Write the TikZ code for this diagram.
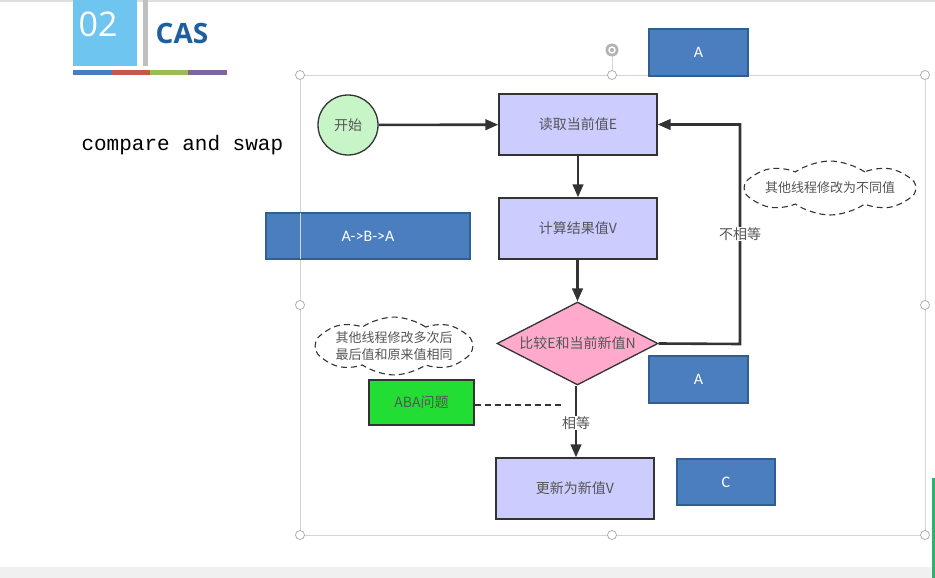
\documentclass[tikz,border=0pt]{standalone}
\usepackage{fontspec}
\setmainfont{Noto Sans CJK SC}
\newfontfamily\cjk{Noto Sans CJK SC}
\newfontfamily\carl{Carlito}
\newfontfamily\opensans{Open Sans}
\newfontfamily\monof{Liberation Mono}
\usetikzlibrary{arrows.meta,shapes.geometric,shapes.symbols}
\definecolor{flowfill}{HTML}{CCCCFF}
\definecolor{flowline}{HTML}{333333}
\definecolor{flowtext}{HTML}{555555}
\definecolor{bluefill}{HTML}{4A7EBE}
\definecolor{blueline}{HTML}{2F5E91}
\definecolor{selgray}{HTML}{D4D4D4}
\definecolor{hdrblue}{HTML}{6EC6F0}
\definecolor{casblue}{HTML}{1F5FA0}
\definecolor{barblue}{HTML}{4A7EBB}
\definecolor{barred}{HTML}{C9564A}
\definecolor{bargreen}{HTML}{9BBB59}
\definecolor{barpurple}{HTML}{8064A2}
\definecolor{startgreen}{HTML}{C8F5C8}
\definecolor{diampink}{HTML}{FFAACC}
\definecolor{abagreen}{HTML}{22DD33}
\definecolor{edgegreen}{HTML}{2DB36B}
\tikzset{
  flowfont/.style={font=\cjk\fontsize{14}{17}\selectfont,text=flowtext},
  flowbox/.style={draw=flowline,line width=1.3pt,fill=flowfill,minimum width=158pt,minimum height=61pt,inner sep=0pt,flowfont},
  bluebox/.style={draw=blueline,line width=2pt,fill=bluefill,inner sep=0pt,font=\carl\fontsize{16}{19}\selectfont,text=white},
  flowarrow/.style={draw=flowline,line width=2.6pt,-{Triangle[length=13pt,width=10.5pt]}},
  handle/.style={circle,draw=gray!70,fill=white,line width=0.7pt,minimum size=9pt,inner sep=0pt},
  cloudnote/.style={cloud,cloud puffs=8,cloud puff arc=70,cloud ignores aspect,draw=flowline,dash pattern=on 6pt off 4pt,line width=1.1pt,inner sep=0pt,align=center,font=\cjk\fontsize{13}{17}\selectfont,text=flowtext},
}
\begin{document}
\begin{tikzpicture}[x=1pt,y=-1pt]
\useasboundingbox (0,0) rectangle (935,578);
\fill[white] (0,0) rectangle (935,578);
% top / bottom strips
\fill[gray!25] (0,0) rectangle (935,2);
\fill[gray!12] (0,567) rectangle (935,578);
\fill[edgegreen] (932,478) rectangle (935,578);
% header
\fill[hdrblue] (73,0) rectangle (137,66);
\node[text=white,font=\opensans\fontsize{34}{38}\selectfont,anchor=center] (num) at (98,24) {02};
\fill[gray!50] (143,0) rectangle (148,66);
\node[text=casblue,font=\opensans\bfseries\fontsize{28}{32}\selectfont] (cas) at (182,33) {CAS};
\fill[barblue] (73,70) rectangle (112,75.5);
\fill[barred] (112,70) rectangle (150,75.5);
\fill[bargreen] (150,70) rectangle (188,75.5);
\fill[barpurple] (188,70) rectangle (227,75.5);
\node[font=\monof\fontsize{21}{24}\selectfont,anchor=west] (cmp) at (78,145) {compare and swap};
% selection frame
\draw[selgray,line width=0.8pt] (300,75) rectangle (925,535);
\draw[selgray,line width=0.8pt] (612,50) -- (612,75);
\foreach \p/\n in {{300,75}/h1,{612,75}/h2,{925,75}/h3,{300,305}/h4,{925,305}/h5,{300,535}/h6,{612,535}/h7,{925,535}/h8}
  \node[handle] (\n) at (\p) {};
\node[circle,fill=gray!60,minimum size=13pt,inner sep=0pt] (rot) at (612,50) {};
\node[circle,draw=white,line width=1.4pt,minimum size=6pt,inner sep=0pt] (rotin) at (612,50) {};
% flow nodes
\node[circle,draw=flowline,line width=1.3pt,fill=startgreen,minimum size=60pt,inner sep=0pt,flowfont] (start) at (348,125) {开始};
\node[flowbox] (read) at (578,124.5) {读取当前值E};
\node[flowbox] (calc) at (578,228.5) {计算结果值V};
\node[diamond,draw=flowline,line width=1.3pt,fill=diampink,minimum width=161pt,minimum height=83pt,inner sep=0pt,aspect=1.94,flowfont] (cmpn) at (577.5,343.5) {比较E和当前新值N};
\node[flowbox] (upd) at (575,488.5) {更新为新值V};
\node[draw=flowline,line width=1.3pt,fill=abagreen,minimum width=105pt,minimum height=45pt,inner sep=0pt,flowfont] (aba) at (421.5,402.5) {ABA问题};
\coordinate (abaend) at (563,405);
% connectors
\draw[flowarrow] (start) -- (read);
\draw[flowarrow] (read) -- (calc);
\draw[flowarrow] (calc.south -| cmpn.north) -- (cmpn.north);
\draw[flowarrow] ([xshift=-1.5pt]cmpn.south) -- ([xshift=-1.5pt]cmpn.south |- upd.north);
\coordinate (corner1) at (740,344);
\coordinate (corner2) at (740,124.5);
\draw[flowarrow] (cmpn.east) -- (corner1) -- (corner2) -- (read.east);
\draw[flowline,line width=1.2pt,dash pattern=on 6pt off 4pt] (aba.east |- abaend) -- (abaend);
\node[fill=white,inner sep=1pt,flowfont] (ne) at (740,234) {不相等};
\node[fill=white,inner sep=1pt,flowfont] (eq) at (576,423) {相等};
% clouds
\node[cloudnote,minimum width=138pt,minimum height=54pt] (c1) at (830,188) {其他线程修改为不同值};
\node[cloudnote,minimum width=140pt,minimum height=54pt] (c2) at (394,346) {其他线程修改多次后\\最后值和原来值相同};
% blue boxes
\node[bluebox,minimum width=99pt,minimum height=47pt] (ba1) at (698.5,52.5) {A};
\node[bluebox,minimum width=204pt,minimum height=46pt] (bab) at (368,236) {A->B->A};
\node[bluebox,minimum width=99pt,minimum height=47pt] (ba2) at (698.5,379.5) {A};
\node[bluebox,minimum width=98pt,minimum height=46pt] (bc) at (726,482) {C};
\draw[selgray,line width=0.8pt] (300,213) -- (300,259);
\end{tikzpicture}
\end{document}
